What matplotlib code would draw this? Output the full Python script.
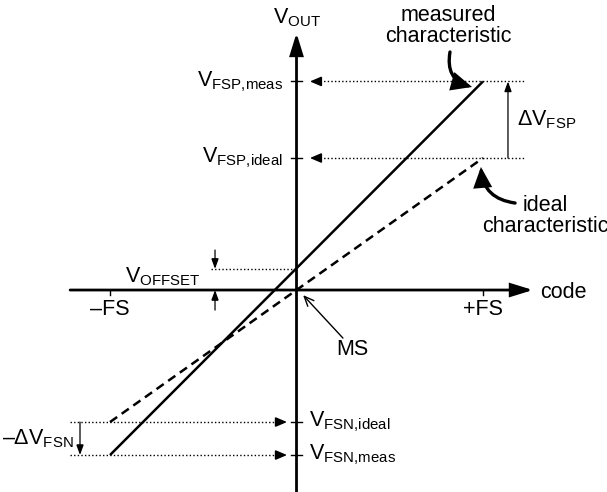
import matplotlib
matplotlib.use("Agg")
import matplotlib.pyplot as plt
from matplotlib.patches import FancyArrowPatch

plt.rcParams['font.family'] = ['Liberation Sans', 'DejaVu Sans']
plt.rcParams['mathtext.fontset'] = 'custom'
plt.rcParams['mathtext.rm'] = 'Liberation Sans'

# data (code in units of FS, voltage in units of ideal full scale)
code_fs = [-1.0, 1.0]
v_ideal = [-1.0, 1.0]
v_meas = [-1.25, 1.58]
v_offset = 0.16
code_labels = ["\u2013FS", "+FS"]

fig = plt.figure(figsize=(6.07, 4.92), dpi=100)
ax = fig.add_axes([0, 0, 1, 1])
ax.set_xlim(-1.59, 1.665)
ax.set_ylim(-1.53, 2.197)
ax.axis("off")

FS = 15.5


def arrow(p0, p1, lw=1.0, hl=6, hw=2.5, style="-|>", rad=0.0):
    a = FancyArrowPatch(p0, p1, arrowstyle=f"{style},head_length={hl},head_width={hw}",
                        connectionstyle=f"arc3,rad={rad}", lw=lw, color="black",
                        shrinkA=0, shrinkB=0, mutation_scale=1, joinstyle="miter")
    ax.add_patch(a)


# axes
arrow((-1.214, 0), (1.268, 0), lw=2.0, hl=13, hw=4)
arrow((0, -1.53), (0, 1.947), lw=2.0, hl=13, hw=4)
ax.text(1.306, 0, "code", fontsize=FS, ha="left", va="center_baseline")
ax.text(0, 2.06, r"$\mathregular{V_{OUT}}$", fontsize=FS, ha="center", va="center")

# code ticks
for c, lab in zip(code_fs, code_labels):
    ax.plot([c, c], [0, -0.035], color="black", lw=1.0)
    ax.text(c, -0.15, lab, fontsize=FS, ha="center", va="center")

# characteristics
ax.plot(code_fs, v_meas, color="black", lw=1.8, solid_capstyle="butt")
ax.plot(code_fs, v_ideal, color="black", lw=1.8, linestyle=(0, (3.5, 2.2)), dash_capstyle="butt")

dot = (0, (1, 1.6))
# positive full scale levels
for v, lab in zip([v_meas[1], v_ideal[1]], ["FSP{,}meas", "FSP{,}ideal"]):
    ax.plot([-0.032, 0.032], [v, v], color="black", lw=1.0)
    ax.plot([0.126, 1.225], [v, v], color="black", lw=1.0, linestyle=dot)
    arrow((0.13, v), (0.072, v), lw=1.0, hl=7, hw=3)
    ax.text(-0.072, v, r"$\mathregular{V_{%s}}$" % lab, fontsize=FS, ha="right", va="center")

# negative full scale levels
for v, lab in zip([v_ideal[0], v_meas[0]], ["FSN{,}ideal", "FSN{,}meas"]):
    ax.plot([-0.032, 0.032], [v, v], color="black", lw=1.0)
    ax.plot([-1.214, -0.105], [v, v], color="black", lw=1.0, linestyle=dot)
    arrow((-0.11, v), (-0.051, v), lw=1.0, hl=7, hw=3)
    ax.text(0.067, v, r"$\mathregular{V_{%s}}$" % lab, fontsize=FS, ha="left", va="center")

# gain error arrows
arrow((1.134, v_ideal[1]), (1.134, v_meas[1]), lw=0.9, hl=6, hw=2.2)
ax.text(1.182, (v_ideal[1] + v_meas[1]) / 2, r"$\mathregular{\Delta V_{FSP}}$",
        fontsize=FS, ha="left", va="center")
arrow((-1.161, v_ideal[0]), (-1.161, v_meas[0]), lw=0.9, hl=6, hw=2.2)
ax.text(-1.193, (v_ideal[0] + v_meas[0]) / 2, "\u2013" + r"$\mathregular{\Delta V_{FSN}}$",
        fontsize=FS, ha="right", va="center")

# offset
ax.plot([-0.458, 0], [v_offset, v_offset], color="black", lw=1.0, linestyle=dot)
arrow((-0.437, 0.303), (-0.437, v_offset), lw=0.9, hl=6, hw=2.2)
arrow((-0.437, -0.152), (-0.437, 0), lw=0.9, hl=6, hw=2.2)
ax.text(-0.517, 0.1, r"$\mathregular{V_{OFFSET}}$", fontsize=FS, ha="right", va="center")

# callouts
ax.text(0.812, 2.0, "measured\ncharacteristic", fontsize=FS, ha="center", va="center",
        linespacing=1.0)
arrow((0.823, 1.803), (0.941, 1.538), lw=2.4, hl=11, hw=5, rad=0.45)
ax.text(1.332, 0.56, "ideal\ncharacteristic", fontsize=FS, ha="center", va="center",
        linespacing=1.0)
arrow((1.172, 0.659), (0.989, 0.932), lw=2.4, hl=11, hw=5, rad=-0.4)
ax.text(0.298, -0.447, "MS", fontsize=FS, ha="center", va="center")
arrow((0.249, -0.364), (0.035, -0.038), lw=1.0, style="->", hl=7, hw=3)

fig.savefig("out.png", dpi=100)
